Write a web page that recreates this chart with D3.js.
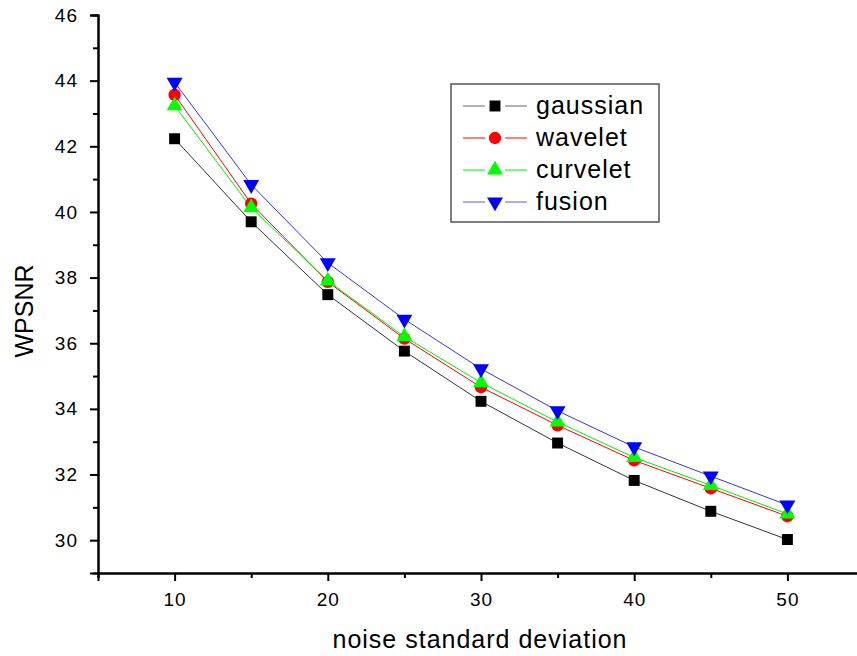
<!DOCTYPE html>
<html>
<head>
<meta charset="utf-8">
<script src="https://cdn.jsdelivr.net/npm/d3@7"></script>
<style>
  body { margin: 0; background: #fff; }
  svg text { font-family: "Liberation Sans", Arial, sans-serif; fill: #000; }
</style>
</head>
<body>
<svg id="canvas"></svg>
<script>
const noiseLevels = [10, 15, 20, 25, 30, 35, 40, 45, 50];
const gaussian = [42.23, 39.70, 37.48, 35.76, 34.23, 32.96, 31.82, 30.88, 30.02];
const wavelet  = [43.57, 40.25, 37.87, 36.14, 34.66, 33.50, 32.43, 31.58, 30.73];
const curvelet = [43.24, 40.13, 37.90, 36.20, 34.80, 33.60, 32.52, 31.67, 30.80];
const fusion   = [43.95, 40.83, 38.45, 36.73, 35.22, 33.94, 32.84, 31.95, 31.07];
const seriesNames = ['gaussian', 'wavelet', 'curvelet', 'fusion'];
const yTicks = [30, 32, 34, 36, 38, 40, 42, 44, 46];
const xTicks = [10, 20, 30, 40, 50];

const width = 857, height = 656;
const svg = d3.select('svg#canvas').attr('width', width).attr('height', height);

const x = d3.scaleLinear().domain([5, 55]).range([98, 864]);
const y = d3.scaleLinear().domain([29, 46]).range([573, 15]);

const series = [
    {name: seriesNames[0], values: gaussian, color: '#000000', line: '#333333', legendLine: '#666666', shape: d3.symbolSquare, size: 120},
    {name: seriesNames[1], values: wavelet, color: '#ff0000', line: '#ff0000', legendLine: '#ff0000', shape: d3.symbolCircle, size: 120},
    {name: seriesNames[2], values: curvelet, color: '#00ff00', line: '#00ee00', legendLine: '#00ee00', shape: d3.symbolTriangle, size: 110},
    {name: seriesNames[3], values: fusion, color: '#0000ff', line: '#3333ff', legendLine: '#5555ff', shape: 'down', size: 110}
];

function markerPath(s) {
    if (s.shape === 'down') return d3.symbol(d3.symbolTriangle, s.size)();
    return d3.symbol(s.shape, s.size)();
}

// axes
const yAxis = d3.axisLeft(y).tickValues(yTicks).tickSize(8).tickPadding(12).tickFormat(d3.format('d'));
const yMinor = d3.axisLeft(y).tickValues(d3.range(31, 46, 2)).tickSize(5).tickFormat('');
const xAxis = d3.axisBottom(x).tickValues(xTicks).tickSize(8).tickPadding(12).tickFormat(d3.format('d'));
const xMinor = d3.axisBottom(x).tickValues([5, 15, 25, 35, 45]).tickSize(5).tickFormat('');

function styleAxis(g) {
    g.select('.domain').attr('stroke', '#000').attr('stroke-width', 2);
    g.selectAll('.tick line').attr('stroke', '#000').attr('stroke-width', 2);
    g.selectAll('.tick text')
        .attr('font-size', 19)
        .attr('letter-spacing', 1)
        .attr('font-family', '"Liberation Sans", Arial, sans-serif');
}

svg.append('g').attr('transform', 'translate(98,0)').call(yMinor).call(styleAxis);
svg.append('g').attr('transform', 'translate(98,0)').call(yAxis).call(styleAxis);
svg.append('g').attr('transform', 'translate(0,573)').call(xMinor).call(styleAxis);
svg.append('g').attr('transform', 'translate(0,573)').call(xAxis).call(styleAxis);

// axis titles
svg.append('text')
    .attr('transform', 'translate(33,311) rotate(-90)')
    .attr('text-anchor', 'middle')
    .attr('font-size', 25)
    .text('WPSNR');
svg.append('text')
    .attr('x', 480).attr('y', 648)
    .attr('text-anchor', 'middle')
    .attr('font-size', 25)
    .attr('letter-spacing', 1)
    .text('noise standard deviation');

// lines
const line = d3.line().x((d, i) => x(noiseLevels[i])).y(d => y(d));
series.forEach(s => {
    svg.append('path')
        .datum(s.values)
        .attr('fill', 'none')
        .attr('stroke', s.line)
        .attr('stroke-width', 1)
        .attr('d', line);
});

// markers
series.forEach(s => {
    svg.append('g').selectAll('path')
        .data(s.values)
        .join('path')
        .attr('d', markerPath(s))
        .attr('fill', s.color)
        .attr('transform', (d, i) => `translate(${x(noiseLevels[i])},${y(d)})` + (s.shape === 'down' ? ' rotate(180)' : ''));
});

// legend
const legend = svg.append('g');
legend.append('rect')
    .attr('x', 451).attr('y', 84).attr('width', 208).attr('height', 138)
    .attr('fill', '#fff').attr('stroke', '#555').attr('stroke-width', 1.5);
series.forEach((s, i) => {
    const ly = 106 + i * 32;
    legend.append('line').attr('x1', 463).attr('x2', 485).attr('y1', ly).attr('y2', ly)
        .attr('stroke', s.legendLine).attr('stroke-width', 1);
    legend.append('line').attr('x1', 505).attr('x2', 527).attr('y1', ly).attr('y2', ly)
        .attr('stroke', s.legendLine).attr('stroke-width', 1);
    legend.append('path').attr('d', markerPath(s)).attr('fill', s.color)
        .attr('transform', `translate(495,${ly})` + (s.shape === 'down' ? ' rotate(180)' : ''));
    legend.append('text').attr('x', 536).attr('y', ly + 8)
        .attr('font-size', 25).attr('letter-spacing', 1)
        .text(s.name);
});
</script>
</body>
</html>
